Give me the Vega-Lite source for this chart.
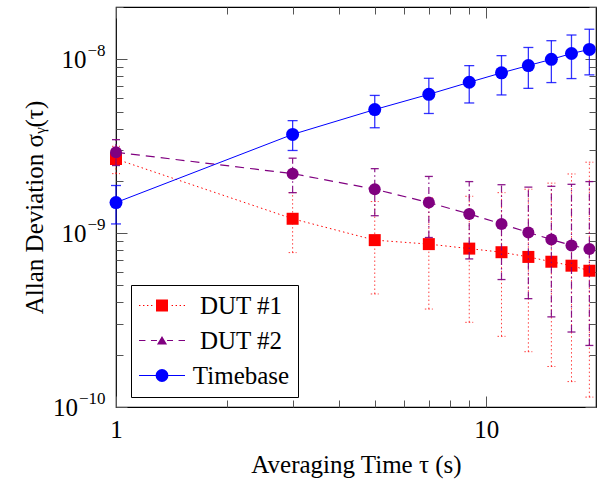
{
  "$schema": "https://vega.github.io/schema/vega-lite/v6.json",
  "width": 480,
  "height": 400,
  "autosize": {"type": "none"},
  "padding": {"left": 116, "top": 7, "right": 1, "bottom": 75},
  "config": {
    "font": "Liberation Serif, Times New Roman, DejaVu Serif, serif",
    "view": {"stroke": "black", "strokeWidth": 1.2},
    "axis": {
      "labelFont": "Liberation Serif, Times New Roman, DejaVu Serif, serif", "labelFontSize": 25, "labelColor": "black",
      "titleFont": "Liberation Serif, Times New Roman, DejaVu Serif, serif", "titleFontSize": 25, "titleFontWeight": "normal", "titleColor": "black",
      "domain": false, "grid": false, "tickColor": "#555555", "tickWidth": 1,
      "labelOverlap": false, "labelFlush": false, "labelBound": false
    }
  },
  "datasets": {
    "adev": [
      {"series": "DUT #1", "tau": 1, "adev": 2.67e-9, "lo": 2.20e-9, "hi": 3.16e-9},
      {"series": "DUT #1", "tau": 3, "adev": 1.21e-9, "lo": 7.73e-10, "hi": 1.71e-9},
      {"series": "DUT #1", "tau": 5, "adev": 9.12e-10, "lo": 4.47e-10, "hi": 1.52e-9},
      {"series": "DUT #1", "tau": 7, "adev": 8.65e-10, "lo": 3.66e-10, "hi": 1.60e-9},
      {"series": "DUT #1", "tau": 9, "adev": 8.15e-10, "lo": 3.07e-10, "hi": 1.63e-9},
      {"series": "DUT #1", "tau": 11, "adev": 7.77e-10, "lo": 2.55e-10, "hi": 1.71e-9},
      {"series": "DUT #1", "tau": 13, "adev": 7.30e-10, "lo": 2.08e-10, "hi": 1.79e-9},
      {"series": "DUT #1", "tau": 15, "adev": 6.85e-10, "lo": 1.71e-10, "hi": 1.94e-9},
      {"series": "DUT #1", "tau": 17, "adev": 6.50e-10, "lo": 1.40e-10, "hi": 2.19e-9},
      {"series": "DUT #1", "tau": 19, "adev": 6.08e-10, "lo": 1.14e-10, "hi": 2.56e-9},
      {"series": "DUT #2", "tau": 1, "adev": 2.92e-9, "lo": 2.45e-9, "hi": 3.45e-9},
      {"series": "DUT #2", "tau": 3, "adev": 2.20e-9, "lo": 1.71e-9, "hi": 2.70e-9},
      {"series": "DUT #2", "tau": 5, "adev": 1.79e-9, "lo": 1.26e-9, "hi": 2.35e-9},
      {"series": "DUT #2", "tau": 7, "adev": 1.50e-9, "lo": 9.44e-10, "hi": 2.12e-9},
      {"series": "DUT #2", "tau": 9, "adev": 1.29e-9, "lo": 7.11e-10, "hi": 1.98e-9},
      {"series": "DUT #2", "tau": 11, "adev": 1.13e-9, "lo": 5.41e-10, "hi": 1.90e-9},
      {"series": "DUT #2", "tau": 13, "adev": 1.01e-9, "lo": 4.20e-10, "hi": 1.84e-9},
      {"series": "DUT #2", "tau": 15, "adev": 9.2e-10, "lo": 3.30e-10, "hi": 1.86e-9},
      {"series": "DUT #2", "tau": 17, "adev": 8.5e-10, "lo": 2.70e-10, "hi": 1.91e-9},
      {"series": "DUT #2", "tau": 19, "adev": 8.1e-10, "lo": 2.26e-10, "hi": 1.98e-9},
      {"series": "Timebase", "tau": 1, "adev": 1.50e-9, "lo": 1.13e-9, "hi": 1.88e-9},
      {"series": "Timebase", "tau": 3, "adev": 3.70e-9, "lo": 2.99e-9, "hi": 4.44e-9},
      {"series": "Timebase", "tau": 5, "adev": 5.14e-9, "lo": 4.04e-9, "hi": 6.2e-9},
      {"series": "Timebase", "tau": 7, "adev": 6.29e-9, "lo": 4.88e-9, "hi": 7.78e-9},
      {"series": "Timebase", "tau": 9, "adev": 7.38e-9, "lo": 5.61e-9, "hi": 9.2e-9},
      {"series": "Timebase", "tau": 11, "adev": 8.36e-9, "lo": 6.24e-9, "hi": 1.05e-8},
      {"series": "Timebase", "tau": 13, "adev": 9.21e-9, "lo": 6.81e-9, "hi": 1.17e-8},
      {"series": "Timebase", "tau": 15, "adev": 1.0e-8, "lo": 7.35e-9, "hi": 1.28e-8},
      {"series": "Timebase", "tau": 17, "adev": 1.08e-8, "lo": 7.75e-9, "hi": 1.38e-8},
      {"series": "Timebase", "tau": 19, "adev": 1.14e-8, "lo": 8.14e-9, "hi": 1.49e-8}
    ]
  },
  "data": {"name": "adev"},
  "resolve": {"axis": {"x": "independent", "y": "independent"}},
  "layer": [
    {
      "mark": {"type": "point", "opacity": 0},
      "encoding": {
        "x": {"field": "tau", "type": "quantitative", "scale": {"type": "log", "domain": [1, 19.8], "nice": false},
          "axis": {"orient": "bottom", "values": [1, 10], "format": "d", "tickSize": -11,
            "labelPadding": 21, "title": "Averaging Time τ (s)", "titlePadding": 10}},
        "y": {"field": "adev", "type": "quantitative", "scale": {"type": "log", "domain": [1e-10, 2e-8], "nice": false},
          "axis": {"orient": "left", "values": [1e-10, 1e-9, 1e-8],
            "labelExpr": "'10'",
            "labelPadding": {"condition": {"test": "datum.value < 5e-10", "value": 49.5}, "value": 41},
            "tickSize": -11, "title": "Allan Deviation σᵧ(τ)", "titlePadding": 5}}
      }
    },
    {
      "mark": {"type": "point", "opacity": 0},
      "encoding": {
        "x": {"field": "tau", "type": "quantitative", "scale": {"type": "log", "domain": [1, 19.8], "nice": false},
          "axis": {"orient": "top", "values": [1, 10], "labels": false, "title": null, "tickSize": -11}},
        "y": {"field": "adev", "type": "quantitative", "scale": {"type": "log", "domain": [1e-10, 2e-8], "nice": false},
          "axis": {"orient": "right", "values": [1e-10, 1e-9, 1e-8], "labels": false, "title": null, "tickSize": -11}}
      }
    },
    {
      "mark": {"type": "point", "opacity": 0},
      "encoding": {
        "x": {"field": "tau", "type": "quantitative", "scale": {"type": "log", "domain": [1, 19.8], "nice": false},
          "axis": {"orient": "bottom", "values": [2,3,4,5,6,7,8,9], "labels": false, "title": null, "tickSize": -7}},
        "y": {"field": "adev", "type": "quantitative", "scale": {"type": "log", "domain": [1e-10, 2e-8], "nice": false},
          "axis": {"orient": "left", "values": [2e-10,3e-10,4e-10,5e-10,6e-10,7e-10,8e-10,9e-10,2e-9,3e-9,4e-9,5e-9,6e-9,7e-9,8e-9,9e-9,2e-8], "labels": false, "title": null, "tickSize": -7}}
      }
    },
    {
      "mark": {"type": "point", "opacity": 0},
      "encoding": {
        "x": {"field": "tau", "type": "quantitative", "scale": {"type": "log", "domain": [1, 19.8], "nice": false},
          "axis": {"orient": "top", "values": [2,3,4,5,6,7,8,9], "labels": false, "title": null, "tickSize": -7}},
        "y": {"field": "adev", "type": "quantitative", "scale": {"type": "log", "domain": [1e-10, 2e-8], "nice": false},
          "axis": {"orient": "right", "values": [2e-10,3e-10,4e-10,5e-10,6e-10,7e-10,8e-10,9e-10,2e-9,3e-9,4e-9,5e-9,6e-9,7e-9,8e-9,9e-9,2e-8], "labels": false, "title": null, "tickSize": -7}}
      }
    },
    {
      "mark": {"type": "point", "opacity": 0},
      "encoding": {
        "x": {"field": "tau", "type": "quantitative", "scale": {"type": "log", "domain": [1, 19.8], "nice": false}, "axis": null},
        "y": {"field": "adev", "type": "quantitative", "scale": {"type": "log", "domain": [1e-10, 2e-8], "nice": false},
          "axis": {"orient": "left", "values": [1e-10, 1e-9, 1e-8], "ticks": false, "title": null,
            "labelExpr": "datum.value < 5e-10 ? '−10' : datum.value < 5e-9 ? '−9' : '−8'",
            "labelFontSize": 17, "labelPadding": 11, "labelOffset": -9}}
      }
    },
    {
      "transform": [{"filter": "datum.series == 'DUT #1'"}],
      "mark": {"type": "rule", "color": "#ff0000", "opacity": 0.75, "strokeWidth": 1, "strokeDash": [1.5, 2.5]},
      "encoding": {
        "x": {"field": "tau", "type": "quantitative", "scale": {"type": "log", "domain": [1, 19.8], "nice": false}, "axis": null},
        "y": {"field": "lo", "type": "quantitative", "scale": {"type": "log", "domain": [1e-10, 2e-8], "nice": false}, "axis": null},
        "y2": {"field": "hi"}
      }
    },
    {
      "transform": [{"filter": "datum.series == 'DUT #1'"}, {"fold": ["lo", "hi"], "as": ["k", "capv"]}],
      "mark": {"type": "rule", "color": "#ff0000", "opacity": 0.75, "strokeWidth": 1, "strokeDash": [1.5, 2], "xOffset": -4, "x2Offset": 4},
      "encoding": {
        "x": {"field": "tau", "type": "quantitative", "scale": {"type": "log", "domain": [1, 19.8], "nice": false}, "axis": null},
        "x2": {"field": "tau"},
        "y": {"field": "capv", "type": "quantitative", "scale": {"type": "log", "domain": [1e-10, 2e-8], "nice": false}, "axis": null}
      }
    },
    {
      "transform": [{"filter": "datum.series == 'DUT #1'"}],
      "mark": {"type": "line", "color": "#ff0000", "strokeWidth": 1, "strokeDash": [1.5, 3]},
      "encoding": {
        "x": {"field": "tau", "type": "quantitative", "scale": {"type": "log", "domain": [1, 19.8], "nice": false}, "axis": null},
        "y": {"field": "adev", "type": "quantitative", "scale": {"type": "log", "domain": [1e-10, 2e-8], "nice": false}, "axis": null}
      }
    },
    {
      "transform": [{"filter": "datum.series == 'DUT #1'"}],
      "mark": {"type": "point", "shape": "square", "filled": true, "color": "#ff0000", "opacity": 1, "size": 144},
      "encoding": {
        "x": {"field": "tau", "type": "quantitative", "scale": {"type": "log", "domain": [1, 19.8], "nice": false}, "axis": null},
        "y": {"field": "adev", "type": "quantitative", "scale": {"type": "log", "domain": [1e-10, 2e-8], "nice": false}, "axis": null}
      }
    },
    {
      "transform": [{"filter": "datum.series == 'DUT #2'"}],
      "mark": {"type": "rule", "color": "#800080", "opacity": 0.9, "strokeWidth": 1.2, "strokeDash": [7, 3, 1.5, 3]},
      "encoding": {
        "x": {"field": "tau", "type": "quantitative", "scale": {"type": "log", "domain": [1, 19.8], "nice": false}, "axis": null},
        "y": {"field": "lo", "type": "quantitative", "scale": {"type": "log", "domain": [1e-10, 2e-8], "nice": false}, "axis": null},
        "y2": {"field": "hi"}
      }
    },
    {
      "transform": [{"filter": "datum.series == 'DUT #2'"}, {"fold": ["lo", "hi"], "as": ["k", "capv"]}],
      "mark": {"type": "rule", "color": "#800080", "opacity": 0.9, "strokeWidth": 1.3, "xOffset": -4, "x2Offset": 4},
      "encoding": {
        "x": {"field": "tau", "type": "quantitative", "scale": {"type": "log", "domain": [1, 19.8], "nice": false}, "axis": null},
        "x2": {"field": "tau"},
        "y": {"field": "capv", "type": "quantitative", "scale": {"type": "log", "domain": [1e-10, 2e-8], "nice": false}, "axis": null}
      }
    },
    {
      "transform": [{"filter": "datum.series == 'DUT #2'"}],
      "mark": {"type": "line", "color": "#800080", "strokeWidth": 1.2, "strokeDash": [9, 6]},
      "encoding": {
        "x": {"field": "tau", "type": "quantitative", "scale": {"type": "log", "domain": [1, 19.8], "nice": false}, "axis": null},
        "y": {"field": "adev", "type": "quantitative", "scale": {"type": "log", "domain": [1e-10, 2e-8], "nice": false}, "axis": null}
      }
    },
    {
      "transform": [{"filter": "datum.series == 'DUT #2'"}],
      "mark": {"type": "point", "shape": "circle", "filled": true, "color": "#800080", "opacity": 1, "size": 144},
      "encoding": {
        "x": {"field": "tau", "type": "quantitative", "scale": {"type": "log", "domain": [1, 19.8], "nice": false}, "axis": null},
        "y": {"field": "adev", "type": "quantitative", "scale": {"type": "log", "domain": [1e-10, 2e-8], "nice": false}, "axis": null}
      }
    },
    {
      "transform": [{"filter": "datum.series == 'Timebase'"}],
      "mark": {"type": "rule", "color": "#0000ff", "opacity": 0.8, "strokeWidth": 1.3},
      "encoding": {
        "x": {"field": "tau", "type": "quantitative", "scale": {"type": "log", "domain": [1, 19.8], "nice": false}, "axis": null},
        "y": {"field": "lo", "type": "quantitative", "scale": {"type": "log", "domain": [1e-10, 2e-8], "nice": false}, "axis": null},
        "y2": {"field": "hi"}
      }
    },
    {
      "transform": [{"filter": "datum.series == 'Timebase'"}, {"fold": ["lo", "hi"], "as": ["k", "capv"]}],
      "mark": {"type": "rule", "color": "#0000ff", "opacity": 0.8, "strokeWidth": 1.3, "xOffset": -5, "x2Offset": 5},
      "encoding": {
        "x": {"field": "tau", "type": "quantitative", "scale": {"type": "log", "domain": [1, 19.8], "nice": false}, "axis": null},
        "x2": {"field": "tau"},
        "y": {"field": "capv", "type": "quantitative", "scale": {"type": "log", "domain": [1e-10, 2e-8], "nice": false}, "axis": null}
      }
    },
    {
      "transform": [{"filter": "datum.series == 'Timebase'"}],
      "mark": {"type": "line", "color": "#0000ff", "strokeWidth": 1},
      "encoding": {
        "x": {"field": "tau", "type": "quantitative", "scale": {"type": "log", "domain": [1, 19.8], "nice": false}, "axis": null},
        "y": {"field": "adev", "type": "quantitative", "scale": {"type": "log", "domain": [1e-10, 2e-8], "nice": false}, "axis": null}
      }
    },
    {
      "transform": [{"filter": "datum.series == 'Timebase'"}],
      "mark": {"type": "point", "shape": "circle", "filled": true, "color": "#0000ff", "opacity": 1, "size": 169},
      "encoding": {
        "x": {"field": "tau", "type": "quantitative", "scale": {"type": "log", "domain": [1, 19.8], "nice": false}, "axis": null},
        "y": {"field": "adev", "type": "quantitative", "scale": {"type": "log", "domain": [1e-10, 2e-8], "nice": false}, "axis": null}
      }
    },
    {
      "mark": {"type": "point", "filled": true, "opacity": 0},
      "encoding": {
        "x": {"field": "tau", "type": "quantitative", "scale": {"type": "log", "domain": [1, 19.8], "nice": false}, "axis": null},
        "y": {"field": "adev", "type": "quantitative", "scale": {"type": "log", "domain": [1e-10, 2e-8], "nice": false}, "axis": null},
        "color": {"field": "series", "type": "nominal",
          "scale": {"domain": ["DUT #1", "DUT #2", "Timebase"], "range": ["#ff0000", "#800080", "#0000ff"]},
          "legend": {"title": null, "orient": "none", "legendX": 15, "legendY": 278, "strokeColor": "black",
            "fillColor": "white", "padding": 8, "symbolSize": 2116, "symbolStrokeWidth": 0, "symbolOpacity": 1,
            "labelFont": "Liberation Serif, Times New Roman, DejaVu Serif, serif", "labelFontSize": 25, "labelColor": "black", "labelAlign": "center", "labelOffset": 56,
            "clipHeight": 25, "rowPadding": 9, "labelLimit": 300}},
        "shape": {"field": "series", "type": "nominal",
          "scale": {"domain": ["DUT #1", "DUT #2", "Timebase"],
            "range": [
              "M-1,-0.025H-0.94V0.025H-1Z M-0.826,-0.025H-0.766V0.025H-0.826Z M-0.652,-0.025H-0.592V0.025H-0.652Z M-0.478,-0.025H-0.418V0.025H-0.478Z M0.418,-0.025H0.478V0.025H0.418Z M0.592,-0.025H0.652V0.025H0.592Z M0.766,-0.025H0.826V0.025H0.766Z M0.94,-0.025H1V0.025H0.94Z M-0.26,-0.26H0.26V0.26H-0.26Z",
              "M-1,-0.025H-0.72V0.025H-1Z M-0.48,-0.025H-0.22V0.025H-0.48Z M0.22,-0.025H0.48V0.025H0.22Z M0.72,-0.025H1V0.025H0.72Z M0,-0.2L0.22,0.17H-0.22Z",
              "M-1,-0.025H1V0.025H-1Z M0.28,0L0.2587,0.1072L0.198,0.198L0.1072,0.2587L0,0.28L-0.1072,0.2587L-0.198,0.198L-0.2587,0.1072L-0.28,0L-0.2587,-0.1072L-0.198,-0.198L-0.1072,-0.2587L0,-0.28L0.1072,-0.2587L0.198,-0.198L0.2587,-0.1072Z"
            ]},
          "legend": {"title": null, "orient": "none", "legendX": 15, "legendY": 278, "strokeColor": "black",
            "fillColor": "white", "padding": 8, "symbolSize": 2116, "symbolStrokeWidth": 0, "symbolOpacity": 1,
            "labelFont": "Liberation Serif, Times New Roman, DejaVu Serif, serif", "labelFontSize": 25, "labelColor": "black", "labelAlign": "center", "labelOffset": 56,
            "clipHeight": 25, "rowPadding": 9, "labelLimit": 300}}
      }
    }
  ]
}
